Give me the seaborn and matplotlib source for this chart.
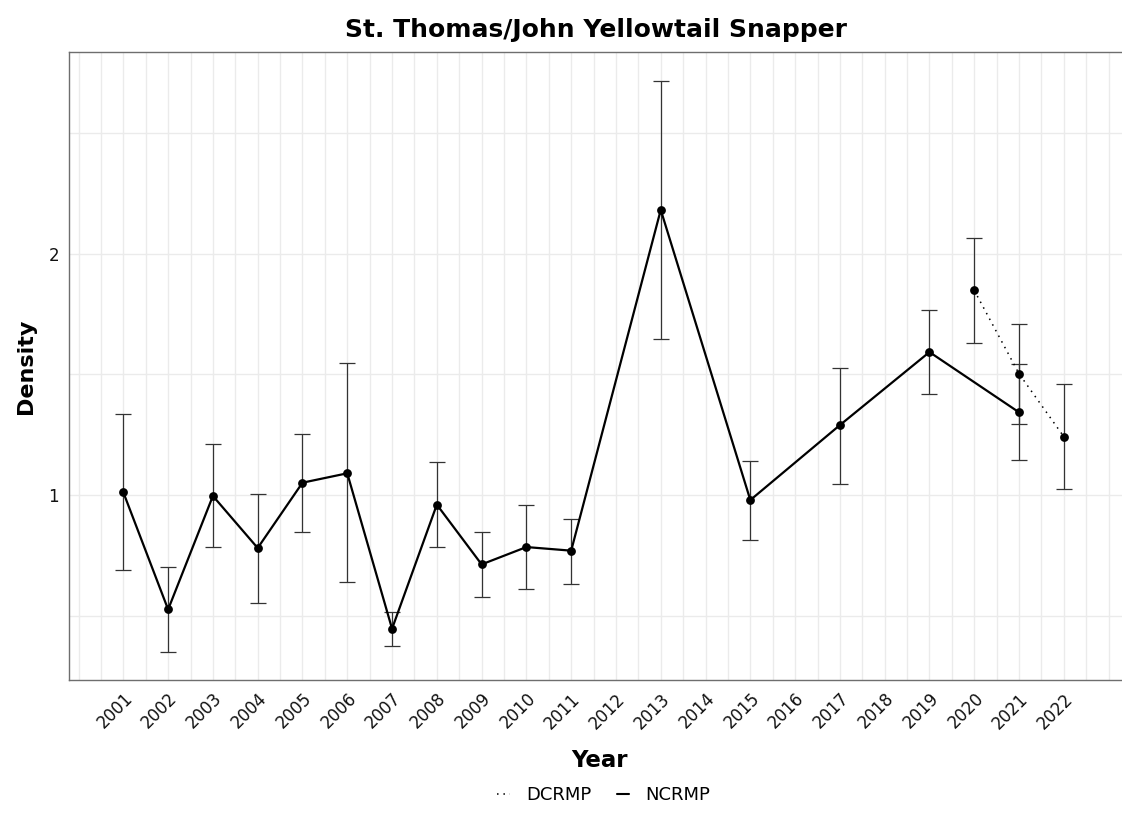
import numpy as np
import pandas as pd
import seaborn as sns
import matplotlib
matplotlib.use("Agg")
import matplotlib.pyplot as plt
from matplotlib.lines import Line2D

# ---- survey estimates -------------------------------------------------------
ncrmp_years = [2001, 2002, 2003, 2004, 2005, 2006, 2007, 2008, 2009, 2010,
               2011, 2013, 2015, 2017, 2019, 2021]
ncrmp_density = [1.011, 0.525, 0.996, 0.780, 1.051, 1.090, 0.445, 0.960,
                 0.712, 0.784, 0.769, 2.183, 0.979, 1.290, 1.593, 1.343]
ncrmp_lower = [0.690, 0.350, 0.784, 0.552, 0.848, 0.640, 0.373, 0.784,
               0.577, 0.609, 0.632, 1.646, 0.813, 1.047, 1.418, 1.144]
ncrmp_upper = [1.335, 0.700, 1.210, 1.003, 1.254, 1.546, 0.516, 1.138,
               0.848, 0.960, 0.899, 2.718, 1.141, 1.528, 1.769, 1.545]

dcrmp_years = [2020, 2021, 2022]
dcrmp_density = [1.849, 1.503, 1.242]
dcrmp_lower = [1.629, 1.295, 1.024]
dcrmp_upper = [2.068, 1.708, 1.462]

year_labels = list(range(2001, 2023))
y_breaks = [1, 2]
y_minor = [0.5, 1.5, 2.5]

df = pd.concat([
    pd.DataFrame({"Year": ncrmp_years, "Density": ncrmp_density,
                  "lower": ncrmp_lower, "upper": ncrmp_upper, "Survey": "NCRMP"}),
    pd.DataFrame({"Year": dcrmp_years, "Density": dcrmp_density,
                  "lower": dcrmp_lower, "upper": dcrmp_upper, "Survey": "DCRMP"}),
], ignore_index=True)

# ---- styling ----------------------------------------------------------------
sns.set_style("white")
plt.rcParams["font.family"] = ["DejaVu Sans"]
plt.rcParams["text.color"] = "black"
plt.rcParams["axes.labelcolor"] = "black"

W, H = 1122, 818
fig = plt.figure(figsize=(W / 100, H / 100), dpi=100)
left_px, right_px, top_px, bottom_px = 68.7, 1131, 52, 680
ax = fig.add_axes([left_px / W, 1 - bottom_px / H,
                   (right_px - left_px) / W, (bottom_px - top_px) / H])

# error bars
for survey in ["NCRMP", "DCRMP"]:
    d = df[df["Survey"] == survey]
    ax.errorbar(d["Year"], d["Density"],
                yerr=[d["Density"] - d["lower"], d["upper"] - d["Density"]],
                fmt="none", ecolor="#333333", elinewidth=0.9,
                capsize=5.5, capthick=0.9, zorder=3)

# connecting lines
sns.lineplot(data=df, x="Year", y="Density", style="Survey",
             dashes={"NCRMP": "", "DCRMP": (1, 3.2)},
             color="black", ax=ax, legend=False, zorder=4,
             estimator=None, sort=True)
for ln in ax.lines:
    if ln.get_linestyle() == "-":
        ln.set_linewidth(1.6)
    else:
        ln.set_linewidth(1.1)

# points
sns.scatterplot(data=df, x="Year", y="Density", color="black", s=40,
                edgecolor="black", linewidth=0, ax=ax, legend=False, zorder=5)

# scales
ax.set_xlim(1999.78, 2023.22)
ax.set_ylim(0.2324, 2.838)
ax.set_xticks(year_labels)
ax.set_xticklabels([str(y) for y in year_labels])
ax.set_xticks(np.arange(2000, 2023.6, 0.5), minor=True)
ax.set_yticks(y_breaks)
ax.set_yticklabels([str(v) for v in y_breaks])
ax.set_yticks(y_minor, minor=True)

ax.grid(which="both", color="#ebebeb", linewidth=1.0, zorder=0)
ax.set_axisbelow(True)

for side, sp in ax.spines.items():
    sp.set_color("#6e6e6e")
    sp.set_linewidth(1.0)
    sp.set_visible(True)

ax.tick_params(axis="both", which="major", length=4, width=1.2,
               color="#333333", labelsize=12, labelcolor="#111111", pad=3)
ax.tick_params(axis="both", which="minor", length=0)
for lab in ax.get_xticklabels():
    lab.set_rotation(45)
    lab.set_ha("right")
    lab.set_va("top")
    lab.set_rotation_mode("anchor")

ax.set_xlabel("Year", fontsize=16.5, fontweight="bold", labelpad=12)
ax.set_ylabel("Density", fontsize=16, fontweight="bold", labelpad=9)

fig.text(596 / W, 1 - 30 / H, "St. Thomas/John Yellowtail Snapper",
         ha="center", va="center", fontsize=18, fontweight="bold")

handles = [Line2D([], [], color="black", linestyle=(0, (1, 3.2)), linewidth=1.1),
           Line2D([], [], color="black", linestyle="-", linewidth=1.5)]
fig.legend(handles, ["DCRMP", "NCRMP"], loc="center",
           bbox_to_anchor=(604 / W, 1 - 795 / H), ncol=2, frameon=False,
           fontsize=13, handlelength=0.7, handletextpad=0.9,
           columnspacing=1.4)

fig.savefig("out.png", dpi=100, facecolor="white")
